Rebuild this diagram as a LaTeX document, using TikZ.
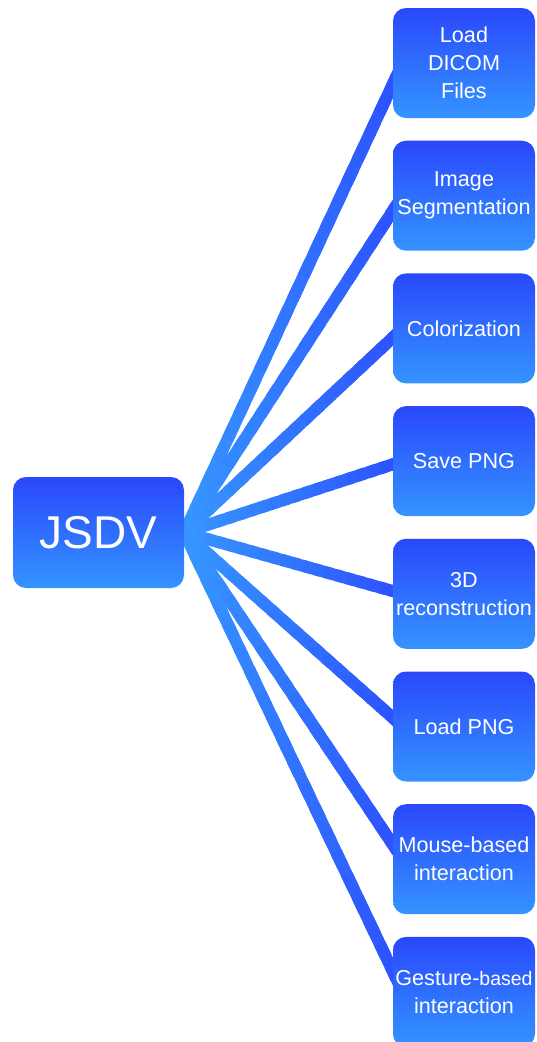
\documentclass[tikz,border=0pt]{standalone}
\usepackage{fontspec}
\setmainfont{Liberation Sans}
\usetikzlibrary{calc,backgrounds}
\definecolor{boxtop}{RGB}{42,72,252}
\definecolor{boxbot}{RGB}{52,148,255}
\definecolor{linkhub}{RGB}{54,150,255}
\definecolor{linkend}{RGB}{44,78,255}
\begin{document}
\begin{tikzpicture}[x=1pt,y=-1pt,
  card/.style={rounded corners=13pt, top color=boxtop, bottom color=boxbot,
    text=white, align=center, minimum width=142pt, minimum height=110pt,
    inner sep=0pt, font=\fontsize{21.6}{28}\selectfont},
  root/.style={card, minimum width=171pt, minimum height=111pt,
    font=\fontsize{46}{50}\selectfont},
  link/.style={line width=12pt}
]
\useasboundingbox (0,0) rectangle (536,1042);
\clip (0,0) rectangle (536,1042);

% central node
\node[root] (root) at (98.5,532.5) {JSDV};

% feature nodes, one every 132.7pt
\node[card] (n1) at (464,63)    {Load\\DICOM\\Files};
\node[card] (n2) at (464,195.7) {Image\\Segmentation};
\node[card] (n3) at (464,328.4) {Colorization};
\node[card] (n4) at (464,461.1) {Save PNG};
\node[card] (n5) at (464,593.8) {3D\\reconstruction};
\node[card] (n6) at (464,726.5) {Load PNG};
\node[card] (n7) at (464,859.2) {Mouse-based\\interaction};
\node[card] (n8) at (464,991.9) {Gesture-{\fontsize{19.5}{28}\selectfont based}\\interaction};

% connectors, shaded from the hub outwards in short overlapping pieces
\begin{scope}[on background layer]
\foreach \k in {1,...,8}{
  \coordinate (t\k) at ($(n\k.west)!0.045!(n\k.west |- root.east)$);
  \coordinate (e\k) at ($(root.east)!1.04!(t\k)$);
  \foreach \j in {0,...,19}{
    \pgfmathtruncatemacro\pc{100-5*\j}
    \draw[link, linkhub!\pc!linkend]
      ($(root.east)!{\j/20}!(e\k)$) -- ($(root.east)!{(\j+1.6)/20}!(e\k)$);
  }
}
\end{scope}
\end{tikzpicture}
\end{document}
